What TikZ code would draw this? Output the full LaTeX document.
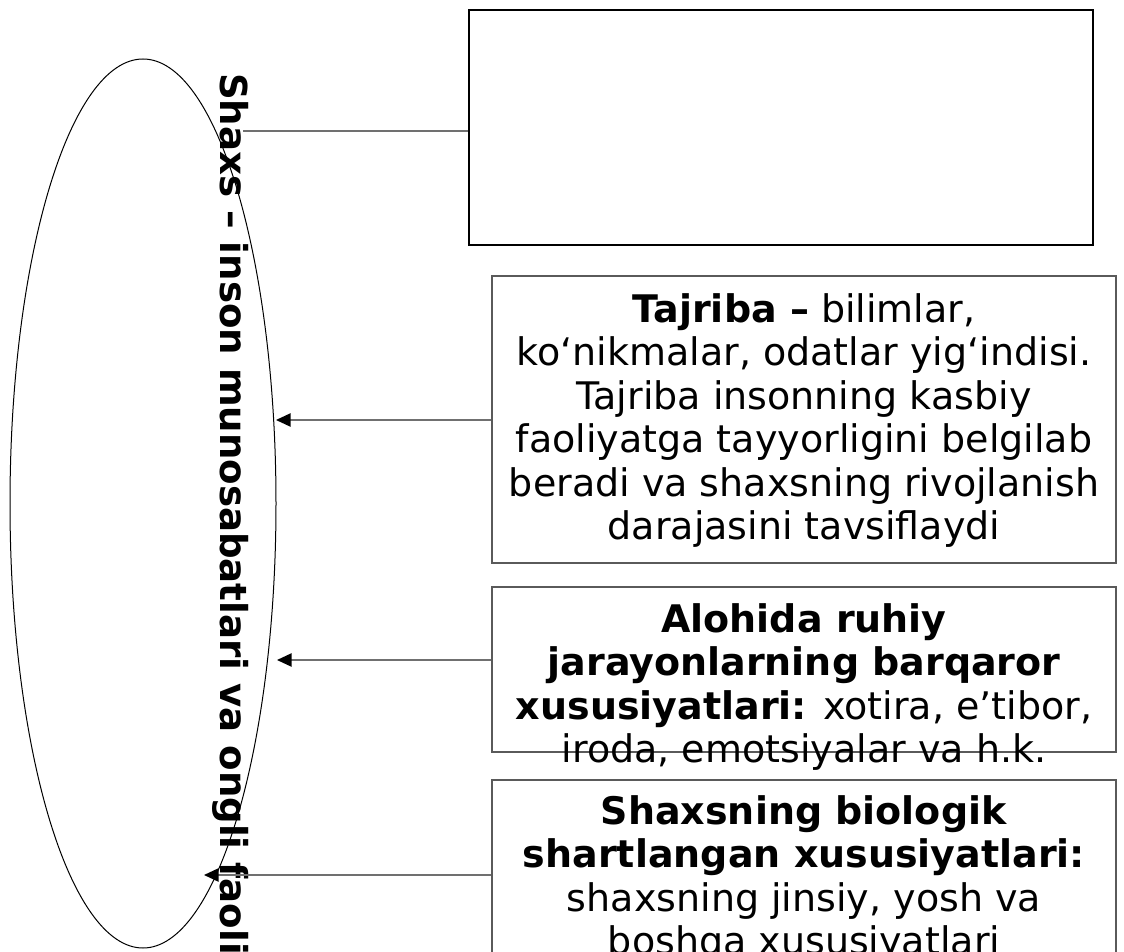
\documentclass[tikz,border=0pt]{standalone}
\usepackage{fontspec}
\setmainfont{DejaVu Sans}
\usetikzlibrary{shapes.geometric,arrows.meta}
\definecolor{boxgray}{HTML}{5A5A5A}
\definecolor{linegray}{HTML}{707070}
\tikzset{
  framebox/.style={draw=boxgray, line width=0.9pt, rectangle, inner sep=0pt,
    minimum width=468pt},
  topbox/.style={draw=black, line width=1.6pt, rectangle, inner sep=0pt, fill=white},
  boxtext/.style={anchor=north, align=center, inner sep=0pt,
    font=\fontsize{28.5}{32.6}\selectfont},
  conn/.style={draw=linegray, line width=1.1pt},
  arr/.style={conn, -{Triangle[length=11pt, width=10pt, color=black]}},
}
\begin{document}
\begin{tikzpicture}[x=0.75pt, y=-0.75pt]
\useasboundingbox (0,0) rectangle (1124,952);
\clip (0,0) rectangle (1124,952);
% ellipse
\node[ellipse, draw=black, line width=0.75pt, inner sep=0pt,
  minimum width=199.5pt, minimum height=666.75pt] (ell) at (143,503.5) {};
% vertical title
\node[rotate=-90, anchor=base west, inner sep=0pt,
  font=\fontsize{27.85}{32}\selectfont\bfseries] (title) at (220,73)
  {Shaxs – inson munosabatlari va ongli faoliyati};
% boxes
\node[topbox, minimum width=468pt, minimum height=176.25pt] (b1) at (781,127.5) {};
\node[framebox, minimum height=215.25pt] (b2) at (804,419.5) {};
\node[framebox, minimum height=123.75pt] (b3) at (804,669.5) {};
\node[framebox, minimum height=142.5pt] (b4) at (804,875) {};
% texts
\node[boxtext] (t2) at (804,293) {\textbf{Tajriba –} bilimlar,\\
  ko‘nikmalar, odatlar yig‘indisi.\\
  Tajriba insonning kasbiy\\
  faoliyatga tayyorligini belgilab\\
  beradi va shaxsning rivojlanish\\
  darajasini tavsiflaydi};
\node[boxtext] (t3) at (804,603) {\textbf{Alohida ruhiy}\\
  \textbf{jarayonlarning barqaror}\\
  \textbf{xususiyatlari:} xotira, e’tibor,\\
  iroda, emotsiyalar va h.k.};
\node[boxtext] (t4) at (804,795) {\textbf{Shaxsning biologik}\\
  \textbf{shartlangan xususiyatlari:}\\
  shaxsning jinsiy, yosh va\\
  boshqa xususiyatlari};
% connector end points
\coordinate (e1) at (243,131);
\coordinate (e2) at (276,420);
\coordinate (e3) at (277,660);
\coordinate (e4) at (204,875);
% connectors
\draw[conn] (b1.west |- e1) -- (e1);
\draw[arr] (b2.west |- e2) -- (e2);
\draw[arr] (b3.west |- e3) -- (e3);
\draw[arr] (b4.west |- e4) -- (e4);
\end{tikzpicture}
\end{document}
